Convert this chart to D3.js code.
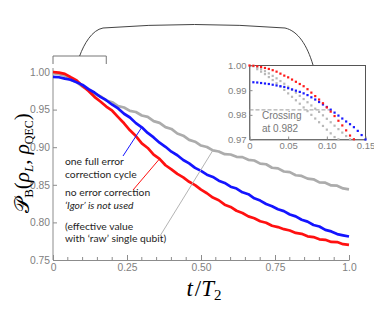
<!DOCTYPE html>
<html>
<head>
<meta charset="utf-8">
<script src="https://cdn.jsdelivr.net/npm/d3@7"></script>
<style>
  body { margin: 0; background: #fff; }
  svg { display: block; }
  .tick text { font-family: "Liberation Sans", Arial, sans-serif; fill: #808080; }
  .note { font-family: "Lato", "Liberation Sans", sans-serif; font-size: 10.3px; fill: #1e1e1e; }
</style>
</head>
<body>
<svg id="chart" width="374" height="311"></svg>
<script>
// main curves, sampled every 0.02 in t/T2
const tMain = d3.range(51).map(i => +(i * 0.02).toFixed(2))
const redMain = [1.000, 0.9992, 0.9975, 0.9930, 0.9888, 0.9815, 0.9748, 0.9670, 0.9608, 0.9540,
  0.9485, 0.9400, 0.9318, 0.9225, 0.9148, 0.9050, 0.8990, 0.8900, 0.8845, 0.8760,
  0.8705, 0.8645, 0.8598, 0.8540, 0.8495, 0.8435, 0.8388, 0.8330, 0.8295, 0.8236,
  0.8205, 0.8155, 0.8125, 0.8080, 0.8055, 0.8015, 0.7995, 0.7955, 0.7938, 0.7910,
  0.7893, 0.7860, 0.7848, 0.7815, 0.7805, 0.7775, 0.7768, 0.7740, 0.7738, 0.7710, 0.7700]
const blueMain = [0.9935, 0.9930, 0.9912, 0.9897, 0.9862, 0.9828, 0.9772, 0.9727, 0.9670, 0.9625,
  0.9565, 0.9515, 0.9445, 0.9395, 0.9320, 0.9265, 0.9190, 0.9130, 0.9060, 0.9005,
  0.8940, 0.8893, 0.8830, 0.8785, 0.8725, 0.8685, 0.8635, 0.8605, 0.8555, 0.8525,
  0.8475, 0.8450, 0.8400, 0.8375, 0.8320, 0.8290, 0.8245, 0.8215, 0.8175, 0.8150,
  0.8105, 0.8080, 0.8035, 0.8010, 0.7965, 0.7945, 0.7900, 0.7880, 0.7845, 0.7828, 0.7812]
const grayMain = [0.9985, 0.9970, 0.9950, 0.9893, 0.9866, 0.9803, 0.9768, 0.9708, 0.9678, 0.9622,
  0.9598, 0.9547, 0.9528, 0.9482, 0.9468, 0.9422, 0.9403, 0.9347, 0.9323, 0.9267,
  0.9243, 0.9182, 0.9153, 0.9097, 0.9073, 0.9022, 0.9003, 0.8957, 0.8943, 0.8907,
  0.8903, 0.8872, 0.8868, 0.8832, 0.8823, 0.8782, 0.8773, 0.8727, 0.8718, 0.8677,
  0.8668, 0.8627, 0.8618, 0.8582, 0.8573, 0.8532, 0.8528, 0.8492, 0.8488, 0.8452, 0.8440]

// inset dots, sampled every 0.005
const tInset = d3.range(31).map(i => +(i * 0.005).toFixed(3))
const redInset = [1.0000, 0.9999, 0.9997, 0.9994, 0.9990, 0.9986, 0.9981, 0.9975, 0.9967, 0.9959,
  0.9952, 0.9943, 0.9934, 0.9925, 0.9916, 0.9904, 0.9890, 0.9876, 0.9862, 0.9847,
  0.9830, 0.9813, 0.9795, 0.9776, 0.9757, 0.9737, 0.9716, 0.9701, null, null, null]
const blueInset = [null, 0.9932, 0.9931, 0.9929, 0.9927, 0.9925, 0.9922, 0.9919, 0.9916, 0.9913,
  0.9908, 0.9903, 0.9898, 0.9893, 0.9887, 0.9880, 0.9871, 0.9862, 0.9852, 0.9842,
  0.9832, 0.9821, 0.9809, 0.9797, 0.9785, 0.9773, 0.9762, 0.9750, 0.9735, 0.9718, 0.9700]
const grayInsetA = [null, 0.9997, 0.9992, 0.9985, 0.9977, 0.9968, 0.9958, 0.9948, 0.9937, 0.9926,
  0.9914, 0.9902, 0.9890, 0.9877, 0.9864, 0.9851, 0.9838, 0.9825, 0.9812, 0.9798,
  0.9784, 0.9770, 0.9756, 0.9742, 0.9728, 0.9714, 0.9701, null, null, null, null]
const grayInsetB = [null, null, 0.9985, 0.9975, 0.9965, 0.9953, 0.9941, 0.9928, 0.9915, 0.9901,
  0.9887, 0.9873, 0.9859, 0.9845, 0.9830, 0.9815, 0.9800, 0.9785, 0.9770, 0.9755,
  0.9740, 0.9725, 0.9710, 0.9701, null, null, null, null, null, null, null]
const crossing = 0.982

const xTicks = [0, 0.25, 0.5, 0.75, 1.0]
const xTickLabels = ['0', '0.25', '0.50', '0.75', '1.0']
const yTicks = [0.75, 0.80, 0.85, 0.90, 0.95, 1.00]
const insetXTicks = [0, 0.05, 0.10, 0.15]
const insetXLabels = ['0', '0.05', '0.10', '0.15']
const insetYTicks = [0.97, 0.98, 0.99, 1.00]

const svg = d3.select('#chart')
const axisColor = '#8c8c8c'

// main scales
const x = d3.scaleLinear().domain([0, 1]).range([53, 349])
const y = d3.scaleLinear().domain([0.75, 1.0]).range([260, 72])

const g = svg.append('g')

// x axis, ticks pointing inward
const xAxisG = g.append('g')
  .attr('transform', `translate(0,${y(0.75)})`)
  .call(d3.axisBottom(x).tickValues(xTicks).tickFormat((d, i) => xTickLabels[i])
    .tickSizeInner(-5).tickSizeOuter(0).tickPadding(4))
xAxisG.append('g').selectAll('line')
  .data(d3.range(0, 1.0001, 0.05).filter(v => Math.abs(v * 4 - Math.round(v * 4)) > 1e-6))
  .enter().append('line')
  .attr('x1', d => x(d)).attr('x2', d => x(d))
  .attr('y1', 0).attr('y2', -3)
  .attr('stroke', axisColor)

const yAxisG = g.append('g')
  .attr('transform', `translate(${x(0)},0)`)
  .call(d3.axisLeft(y).tickValues(yTicks).tickFormat(d3.format('.2f'))
    .tickSizeInner(-4).tickSizeOuter(0).tickPadding(3))

g.selectAll('.domain').attr('stroke', axisColor)
g.selectAll('.tick line').attr('stroke', axisColor)
g.selectAll('.tick text').attr('font-size', 10.3)
yAxisG.select('.domain').attr('d', `M0,${y(0.75)}V${y(1.0) - 4}`)

// curves
const line = d3.line().x((d, i) => x(tMain[i])).y(d => y(d))
const series = [
  { data: grayMain, color: '#acacac' },
  { data: redMain, color: '#ff1010' },
  { data: blueMain, color: '#1414ff' }
]
g.selectAll('path.curve').data(series)
  .enter().append('path')
  .attr('class', 'curve')
  .attr('d', d => line(d.data))
  .attr('fill', 'none')
  .attr('stroke', d => d.color)
  .attr('stroke-width', 2.7)
  .attr('stroke-linejoin', 'round')

// pointers to curves
function pointer(x1, y1, tIdx, data, color) {
  g.append('line')
    .attr('x1', x1).attr('y1', y1)
    .attr('x2', x(tMain[tIdx])).attr('y2', y(data[tIdx]))
    .attr('stroke', color).attr('stroke-width', 1)
}
pointer(123, 156, 15, blueMain, '#1414ff')
pointer(133, 190, 18, redMain, '#ff1010')
pointer(160, 236, 27, grayMain, '#b4b4b4')

// annotation texts
const notes = [
  { text: 'one full error', y: 165, italic: false },
  { text: 'correction cycle', y: 178, italic: false },
  { text: 'no error correction', y: 196, italic: false },
  { text: '\u2018Igor\u2019 is not used', y: 209, italic: true },
  { text: '(effective value', y: 230, italic: false },
  { text: 'with \u2018raw\u2019 single qubit)', y: 242, italic: false }
]
g.selectAll('text.note').data(notes)
  .enter().append('text')
  .attr('class', 'note')
  .attr('x', 65)
  .attr('y', d => d.y)
  .attr('font-style', d => d.italic ? 'italic' : 'normal')
  .text(d => d.text)

// axis titles
const serif = '"DejaVu Serif", "Liberation Serif", serif'
const xt = svg.append('text')
  .attr('x', 204).attr('y', 296)
  .attr('text-anchor', 'middle')
  .attr('font-family', '"Liberation Serif", serif')
  .attr('font-size', 23)
xt.append('tspan').attr('font-style', 'italic').text('t')
xt.append('tspan').attr('dx', 2).text('/')
xt.append('tspan').attr('font-style', 'italic').text('T')
xt.append('tspan').attr('font-size', 15).attr('dy', 4).text('2')

const yt = svg.append('text')
  .attr('transform', 'translate(29,163) rotate(-90)')
  .attr('text-anchor', 'middle')
  .attr('font-family', '"Liberation Serif", serif')
  .attr('font-size', 21)
yt.append('tspan').attr('font-family', serif).text('\u{1D4AB}')
yt.append('tspan').attr('font-size', 13).attr('dy', 4).text('B')
yt.append('tspan').attr('dy', -4).text('(')
yt.append('tspan').attr('font-style', 'italic').text('\u03C1')
yt.append('tspan').attr('font-size', 13).attr('font-style', 'italic').attr('dy', 4).text('L')
yt.append('tspan').attr('dy', -4).text(', ')
yt.append('tspan').attr('font-style', 'italic').text('\u03C1')
yt.append('tspan').attr('font-size', 12).attr('dy', 4).text('QEC')
yt.append('tspan').attr('dy', -4).text(')')

// bracket over the early region and connector to the inset
const bx0 = x(0), bx1 = x(0.18), by = 56
svg.append('path')
  .attr('d', `M${bx0},${by + 8}V${by}H${bx1}V${by + 8}`)
  .attr('fill', 'none').attr('stroke', '#777').attr('stroke-width', 1)
svg.append('path')
  .attr('d', `M${(bx0 + bx1) / 2},${by} C84,44 92,30 103,28 Q195,21 285,28 C298,31 307,45 313,65`)
  .attr('fill', 'none').attr('stroke', '#444').attr('stroke-width', 1)

// inset
const xi = d3.scaleLinear().domain([0, 0.15]).range([249.5, 365.5])
const yi = d3.scaleLinear().domain([0.97, 1.0]).range([139.5, 65.5])
const gi = svg.append('g')

gi.append('rect')
  .attr('x', xi(0)).attr('y', yi(1.0))
  .attr('width', xi(0.15) - xi(0)).attr('height', yi(0.97) - yi(1.0))
  .attr('fill', '#fff').attr('stroke', '#555').attr('stroke-width', 1)

gi.append('g')
  .attr('transform', `translate(0,${yi(0.97)})`)
  .call(d3.axisBottom(xi).tickValues(insetXTicks).tickFormat((d, i) => insetXLabels[i])
    .tickSizeInner(-3).tickSizeOuter(0).tickPadding(3))
gi.append('g')
  .attr('transform', `translate(${xi(0)},0)`)
  .call(d3.axisLeft(yi).tickValues(insetYTicks).tickFormat(d3.format('.2f'))
    .tickSizeInner(-3).tickSizeOuter(0).tickPadding(3))
gi.selectAll('.domain').attr('stroke', axisColor)
gi.selectAll('.tick line').attr('stroke', axisColor)
gi.selectAll('.tick text').attr('font-size', 9.5)

// crossing level
gi.append('line')
  .attr('x1', xi(0)).attr('x2', xi(0.104))
  .attr('y1', yi(crossing)).attr('y2', yi(crossing))
  .attr('stroke', '#999').attr('stroke-width', 1).attr('stroke-dasharray', '4,2')
gi.append('text')
  .attr('x', 262).attr('y', 119)
  .attr('font-family', '"Liberation Sans", Arial, sans-serif')
  .attr('font-size', 10).attr('fill', '#777')
  .text('Crossing')
gi.append('text')
  .attr('x', 262).attr('y', 132)
  .attr('font-family', '"Liberation Sans", Arial, sans-serif')
  .attr('font-size', 10).attr('fill', '#777')
  .text('at 0.982')

const insetSeries = [
  { data: grayInsetB, color: '#b8b8b8' },
  { data: grayInsetA, color: '#b8b8b8' },
  { data: blueInset, color: '#1a1aff' },
  { data: redInset, color: '#ff1a1a' }
]
insetSeries.forEach(s => {
  gi.append('g').selectAll('rect')
    .data(s.data.map((v, i) => ({ t: tInset[i], v })).filter(d => d.v !== null))
    .enter().append('rect')
    .attr('x', d => xi(d.t) - 1.1)
    .attr('y', d => yi(d.v) - 1.1)
    .attr('width', 2.2).attr('height', 2.2)
    .attr('fill', s.color)
})
</script>
</body>
</html>
